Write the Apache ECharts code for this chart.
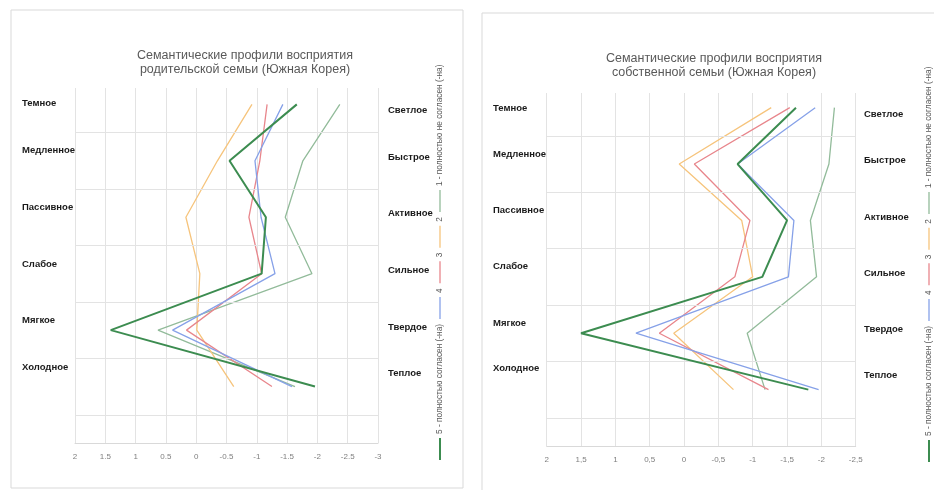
<!DOCTYPE html>
<html><head><meta charset="utf-8">
<script src="https://cdn.jsdelivr.net/npm/echarts@6/dist/echarts.min.js"></script>
<style>html,body{margin:0;padding:0;background:#fff}#c{width:934px;height:490px}</style>
</head><body><div id="c"></div>
<script>
// ---------- data ----------
const seriesNames = ['1 - полностью не согласен (-на)', '2', '3', '4', '5 - полностью согласен (-на)'];
const leftPoles = ['Темное', 'Медленное', 'Пассивное', 'Слабое', 'Мягкое', 'Холодное'];
const rightPoles = ['Светлое', 'Быстрое', 'Активное', 'Сильное', 'Твердое', 'Теплое'];
const rowPositions = [6, 5, 4, 3, 2, 1];
const rowBoundaries = [5.5, 4.5, 3.5, 2.5, 1.5, 0.5];
const titleParent = 'Семантические профили восприятия\nродительской семьи (Южная Корея)';
const titleOwn = 'Семантические профили восприятия\nсобственной семьи (Южная Корея)';
// parental family
const parent1 = [-2.37, -1.76, -1.47, -1.91, 0.63, -1.63];
const parent2 = [-0.92, -0.35, 0.17, -0.06, -0.01, -0.62];
const parent3 = [-1.17, -1.05, -0.87, -1.08, 0.16, -1.25];
const parent4 = [-1.43, -0.97, -1.07, -1.30, 0.39, -1.58];
const parent5 = [-1.66, -0.55, -1.15, -1.08, 1.41, -1.96];
// own family
const own1 = [-2.19, -2.11, -1.84, -1.93, -0.92, -1.18];
const own2 = [-1.27, 0.07, -0.84, -1.00, 0.15, -0.72];
const own3 = [-1.54, -0.15, -0.96, -0.74, 0.36, -1.23];
const own4 = [-1.91, -0.78, -1.60, -1.52, 0.70, -1.96];
const own5 = [-1.63, -0.78, -1.50, -1.14, 1.50, -1.81];
const parentXRange = [-3, 2];
const ownXRange = [-2.5, 2];
const xTickStep = 0.5;

// ---------- styles / layout ----------
const colors = ['#92bb9a', '#f6c47c', '#e8868c', '#86a1e8', '#3c8c50'];
const widths = [1.3, 1.3, 1.3, 1.3, 2];
const FONT = '"Liberation Sans", Arial, sans-serif';
const panels = [
  { grid: { left: 75, top: 88, width: 303, height: 355 }, yMax: 6.29, sep: '.',
    title: titleParent, titleX: 240, titleY: 43, range: parentXRange,
    data: [parent1, parent2, parent3, parent4, parent5],
    leftX: 22, leftY: [103, 150, 207, 264, 320, 367],
    rightX: 388, rightY: [110, 157, 213, 270, 327, 373],
    legendX: 440, legendBottom: 460,
    frame: { x: 11, y: 10, width: 452, height: 478 } },
  { grid: { left: 546.7, top: 93, width: 309, height: 353 }, yMax: 6.26, sep: ',',
    title: titleOwn, titleX: 709, titleY: 46, range: ownXRange,
    data: [own1, own2, own3, own4, own5],
    leftX: 493, leftY: [108, 154, 210, 266, 323, 368],
    rightX: 864, rightY: [114, 160, 217, 273, 329, 375],
    legendX: 929, legendBottom: 462,
    frame: { x: 482, y: 13, width: 470, height: 490 } }
];

const chart = echarts.init(document.getElementById('c'), null, { renderer: 'canvas' });

const measureCtx = document.createElement('canvas').getContext('2d');
function textWidth(t, font) { measureCtx.font = font; return measureCtx.measureText(t).width; }

const option = {
  animation: false,
  backgroundColor: '#fff',
  title: [], grid: [], xAxis: [], yAxis: [], series: [], graphic: []
};

panels.forEach((p, pi) => {
  option.grid.push(p.grid);
  option.title.push({
    text: p.title, left: p.titleX, top: p.titleY, textAlign: 'center',
    textStyle: { fontFamily: FONT, fontSize: 12.5, fontWeight: 'normal', color: '#595959', lineHeight: 14.5 }
  });
  option.xAxis.push({
    type: 'value', gridIndex: pi, min: p.range[0], max: p.range[1], interval: xTickStep, inverse: true,
    axisLine: { show: true, lineStyle: { color: '#d9d9d9' } },
    axisTick: { show: false },
    axisLabel: { fontFamily: FONT, fontSize: 8, color: '#7f7f7f', margin: 10,
      formatter: v => String(v).replace('.', p.sep) },
    splitLine: { show: true, lineStyle: { color: '#e3e3e3', width: 1 } }
  });
  option.yAxis.push({
    type: 'value', gridIndex: pi, min: 0, max: p.yMax,
    axisLine: { show: false }, axisTick: { show: false }, axisLabel: { show: false },
    splitLine: { show: false }
  });
  // horizontal row separators
  option.series.push({
    type: 'line', xAxisIndex: pi, yAxisIndex: pi, data: [], z: 1, silent: true,
    markLine: { silent: true, symbol: 'none', animation: false, label: { show: false },
      lineStyle: { color: '#e3e3e3', type: 'solid', width: 1 },
      data: rowBoundaries.map(v => ({ yAxis: v })) }
  });
  p.data.forEach((vals, si) => {
    option.series.push({
      name: seriesNames[si], type: 'line', xAxisIndex: pi, yAxisIndex: pi, z: 2 + si,
      symbol: 'none', smooth: false, silent: true,
      lineStyle: { color: colors[si], width: widths[si] },
      data: vals.map((v, i) => [v, rowPositions[i]])
    });
  });
  // frame
  option.graphic.push({ type: 'rect', silent: true, z: -10,
    shape: p.frame, style: { fill: 'none', stroke: '#d9d9d9', lineWidth: 1 } });
  // pole labels
  const pf = 'bold 9.5px ' + FONT;
  leftPoles.forEach((t, i) => option.graphic.push({ type: 'text', silent: true,
    x: p.leftX, y: p.leftY[i],
    style: { text: t, fill: '#1a1a1a', font: pf, textAlign: 'left', textVerticalAlign: 'middle' } }));
  rightPoles.forEach((t, i) => option.graphic.push({ type: 'text', silent: true,
    x: p.rightX, y: p.rightY[i],
    style: { text: t, fill: '#1a1a1a', font: pf, textAlign: 'left', textVerticalAlign: 'middle' } }));
  // rotated legend (reads bottom -> top)
  const lf = '8.3px ' + FONT;
  const children = [];
  let x = 0;
  [4, 3, 2, 1, 0].forEach((si) => {
    children.push({ type: 'line', silent: true, shape: { x1: x, y1: 0, x2: x + 22, y2: 0 },
      style: { stroke: colors[si], lineWidth: widths[si] } });
    x += 26;
    children.push({ type: 'text', silent: true, x: x, y: 0,
      style: { text: seriesNames[si], fill: '#595959', font: lf, textAlign: 'left', textVerticalAlign: 'middle' } });
    x += textWidth(seriesNames[si], lf) + 5;
  });
  option.graphic.push({ type: 'group', x: p.legendX, y: p.legendBottom, rotation: Math.PI / 2, children });
});

chart.setOption(option);
</script></body></html>
